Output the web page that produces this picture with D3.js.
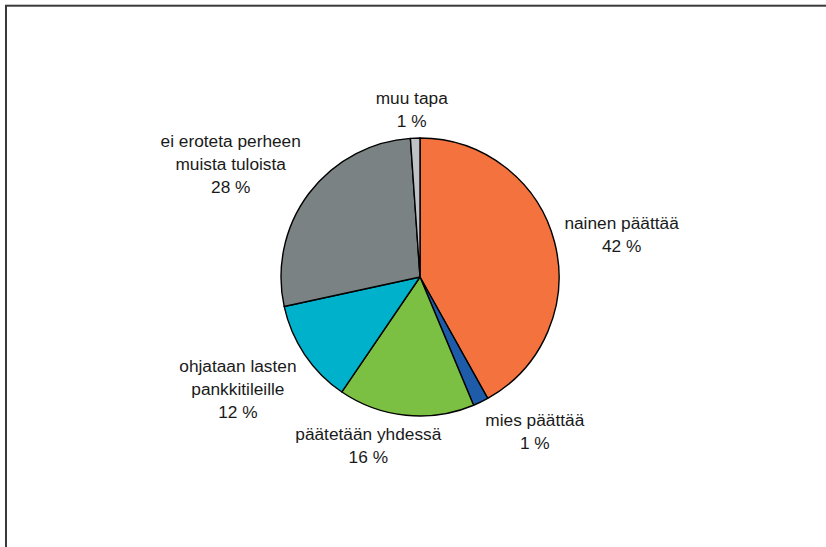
<!DOCTYPE html>
<html><head><meta charset="utf-8">
<script src="https://cdn.jsdelivr.net/npm/d3@7"></script>
<style>body{margin:0;background:#fff}svg{display:block}</style>
</head><body>
<svg id="c" width="826" height="547"></svg>
<script>
const categories = ["nainen päättää","mies päättää","päätetään yhdessä","ohjataan lasten pankkitileille","ei eroteta perheen muista tuloista","muu tapa"];
const labelLines = [["nainen päättää"],["mies päättää"],["päätetään yhdessä"],["ohjataan lasten","pankkitileille"],["ei eroteta perheen","muista tuloista"],["muu tapa"]];
const values = [41.9, 1.8, 15.8, 12.1, 27.3, 1.1];
const pctLabels = ["42 %","1 %","16 %","12 %","28 %","1 %"];
const colors = ["#F3723E","#1E5CA9","#7CC043","#00B1CB","#7A8284","#BEC2C5"];

const W = 826, H = 547;
const svg = d3.select("#c");
svg.append("rect").attr("x",6).attr("y",5.7).attr("width",W+20).attr("height",H+20)
  .attr("fill","none").attr("stroke","#3a3a3a").attr("stroke-width",2);

const cx = 420, cy = 277, r = 139;
const data = categories.map((c,i)=>({name:c, value:values[i], lines:labelLines[i].concat([pctLabels[i]]), color:colors[i]}));
const pie = d3.pie().sort(null).value(d=>d.value);
const arcs = pie(data);
const arc = d3.arc().innerRadius(0).outerRadius(r);
const g = svg.append("g").attr("transform",`translate(${cx},${cy})`);
g.selectAll("path").data(arcs).join("path")
  .attr("d",arc).attr("fill",d=>d.data.color)
  .attr("stroke","#000").attr("stroke-width",1.4).attr("stroke-linejoin","round");

const fs = 17.3, lh = 23;
const lg = g.append("g").attr("font-family","'Liberation Sans', Arial, sans-serif")
  .attr("font-size",fs).attr("fill","#1a1a1a").attr("text-anchor","middle");
arcs.forEach(a=>{
  const m = (a.startAngle+a.endAngle)/2;
  const s = Math.sin(m), c = Math.cos(m);
  const R = r + 10;
  const ax = R*s, ay = -R*c;
  const t = lg.append("text");
  a.data.lines.forEach((ln,i)=>t.append("tspan").attr("x",0).attr("y",i*lh).text(ln));
  const bb = t.node().getBBox();
  const w = bb.width, h = (a.data.lines.length-1)*lh + 16;
  const kx = c < 0 ? 5 : 2.5;
  const ky = c < 0 ? 1.6 : 1.3;
  const fx = Math.max(-1, Math.min(1, s*kx));
  const fy = Math.max(-1, Math.min(1, -c*ky));
  const bx = ax + fx*w/2;
  const by = ay + fy*h/2;
  const top = by - h/2;
  t.attr("transform",`translate(${bx},${top+15})`);
});
</script>
</body></html>
